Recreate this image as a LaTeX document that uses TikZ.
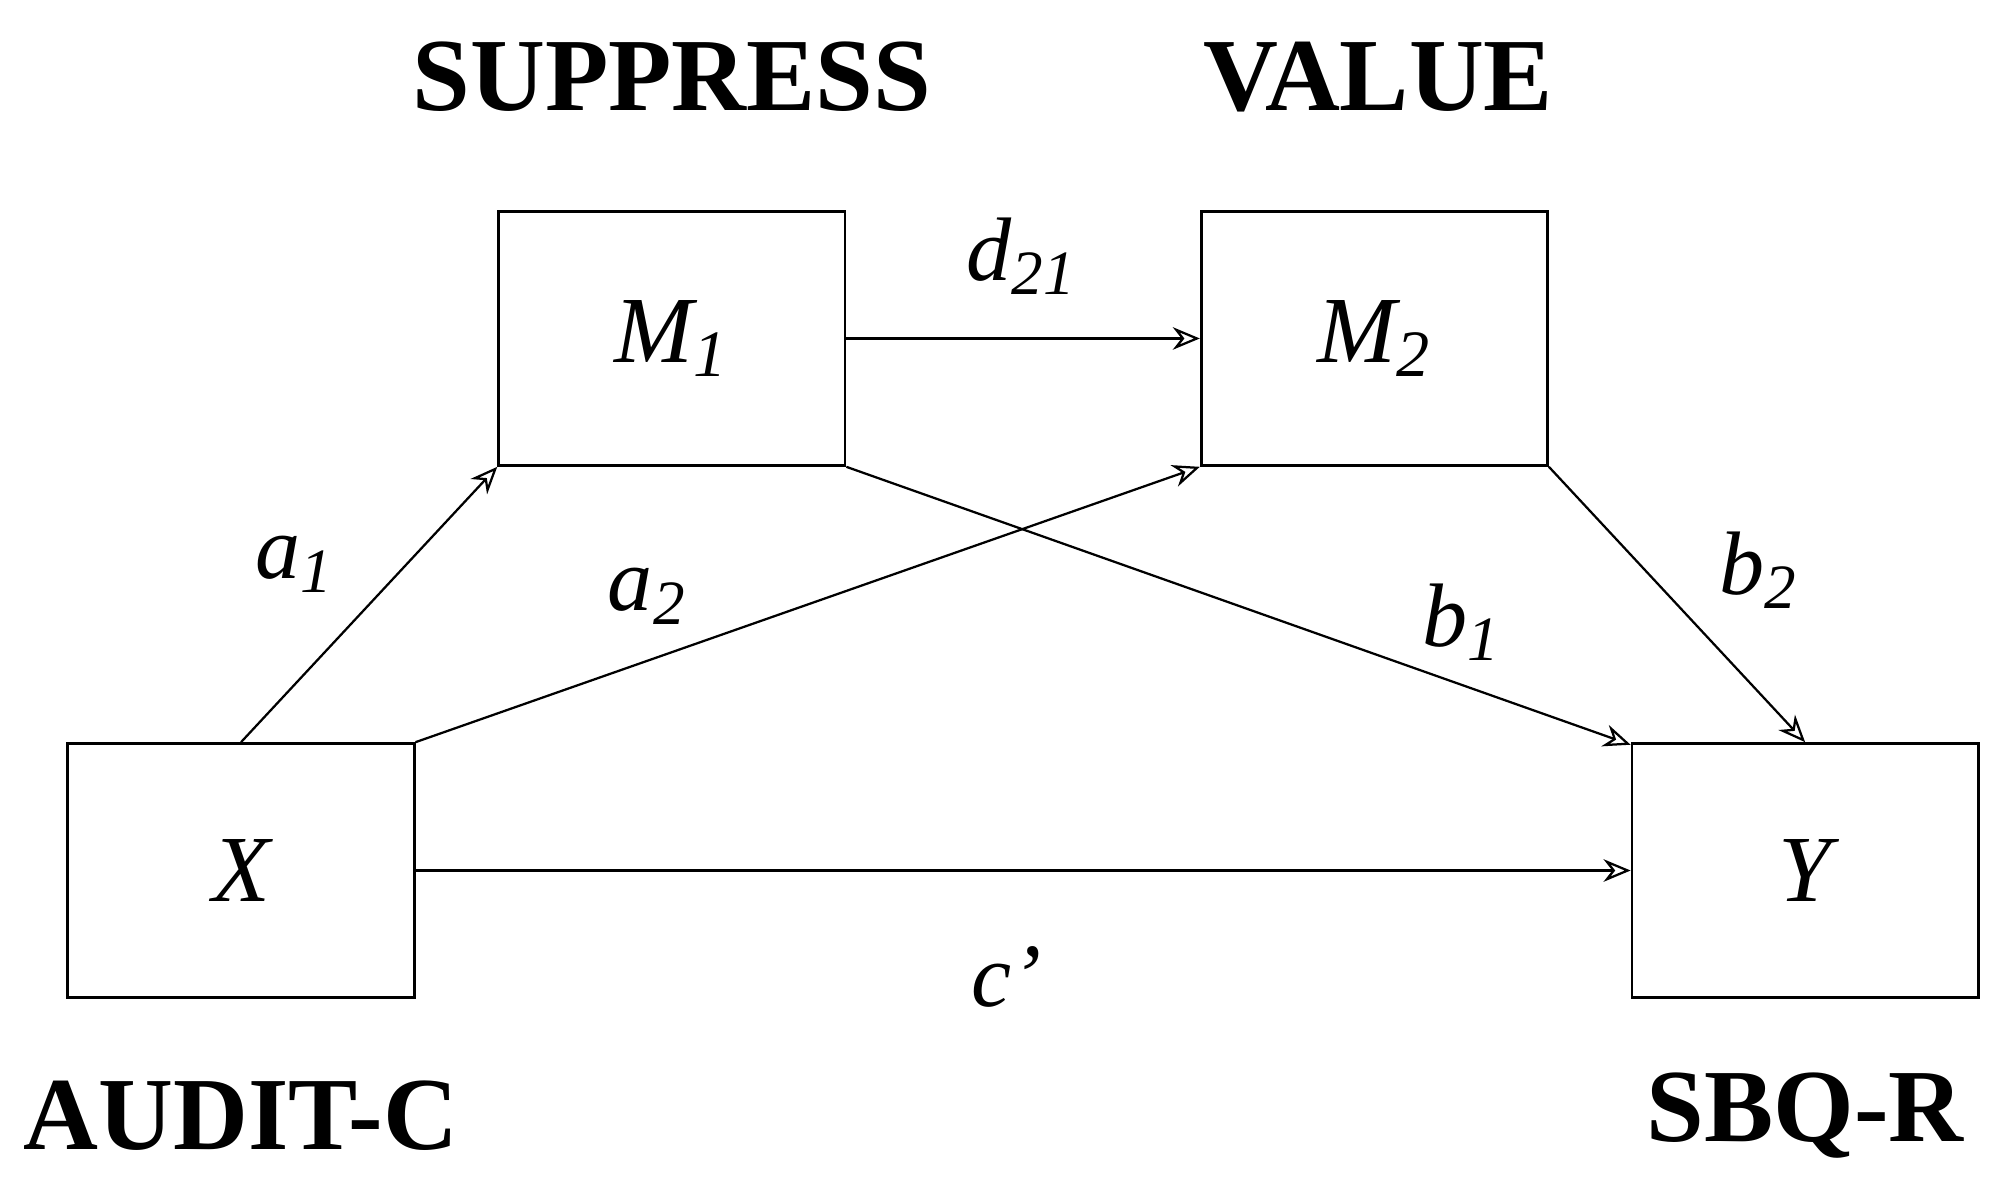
\documentclass[tikz,border=0pt]{standalone}
\usepackage{fontspec}
\setmainfont{Liberation Serif}
\usetikzlibrary{arrows.meta}
\newcommand{\iv}[2]{\textit{#1}\textsubscript{\textit{#2}}}
\begin{document}
\begin{tikzpicture}[x=0.01cm,y=-0.01cm,
 box/.style={draw,line width=0.6pt,minimum width=2.70cm,minimum height=1.98cm,inner sep=0pt,font=\fontsize{21}{25}\selectfont\itshape},
 ttl/.style={font=\fontsize{23}{27}\selectfont\bfseries},
 lab/.style={font=\fontsize{20}{24}\selectfont\itshape},
 arr/.style={-{Stealth[length=6pt,width=5pt,open]},line width=0.5pt}]
\useasboundingbox (0,0) rectangle (1560,921);
\node[box] (m1) at (524,264) {\iv{M}{1}};
\node[box] (m2) at (1072,264) {\iv{M}{2}};
\node[box] (x) at (188,679) {X};
\node[box] (y) at (1408,679) {Y};
\node[ttl] (t1) at (524,60) {SUPPRESS};
\node[ttl] (t2) at (1075,60) {VALUE};
\node[ttl] (t3) at (188,870) {AUDIT-C};
\node[ttl] (t4) at (1408,870) {SBQ-R};
\draw[arr] (m1.east) -- (m2.west);
\draw[arr] (x.north) -- (m1.south west);
\draw[arr] (x.north east) -- (m2.south west);
\draw[arr] (m1.south east) -- ([yshift=-0.02cm]y.north west);
\draw[arr] (m2.south east) -- (y.north);
\draw[arr] (x.east) -- (y.west);
\node[lab] (ld) at (797,200) {\iv{d}{21}};
\node[lab] (la1) at (230,440) {\iv{a}{1}};
\node[lab] (la2) at (505,465) {\iv{a}{2}};
\node[lab] (lb1) at (1140,485) {\iv{b}{1}};
\node[lab] (lb2) at (1372,445) {\iv{b}{2}};
\node[lab] (lc) at (785,762) {c\textquoteright};
\end{tikzpicture}
\end{document}
